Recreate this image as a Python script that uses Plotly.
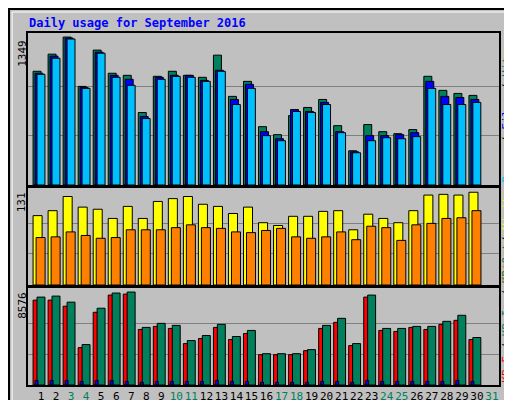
import plotly.graph_objects as go

days = list(range(1, 31))
hits = [1037,1193,1349,899,1230,1019,1000,661,991,1037,1000,982,1184,808,945,532,459,633,707,780,541,312,551,486,468,505,991,863,835,817]
files = [1019,1175,1340,890,1211,1000,964,624,982,1000,1000,954,1046,780,918,486,422,688,670,753,486,303,450,450,459,477,945,808,798,780]
pages = [1009,1156,1331,881,1202,982,909,606,964,991,982,945,1037,734,881,450,404,670,661,734,477,294,404,431,422,441,881,734,734,753]
visits = [98,105,125,110,107,94,111,94,118,122,125,114,111,101,110,88,84,97,97,104,105,78,100,94,88,105,127,128,127,131]
sites = [67,68,75,70,66,67,78,78,78,81,85,81,80,75,74,77,80,68,66,68,75,64,83,81,63,85,87,94,95,105]
kb_out = [8109,8202,7643,3728,7083,8482,8576,5313,5686,5499,4101,4567,5592,4474,5033,2889,2889,2889,3262,5499,6151,3821,8295,5219,5219,5406,5406,5872,6431,4381]
kb_in = [7829,7829,7270,3448,6710,8295,8388,5126,5406,5219,3821,4287,5312,4194,4753,2796,2796,2796,3169,5219,5778,3635,8109,5033,4940,5312,5126,5592,5965,4194]
kb_f = [420,420,420,330,420,420,330,250,330,330,330,330,420,330,330,250,250,250,250,330,330,250,420,330,330,330,330,330,420,330]
weekend = [3,4,10,11,17,18,24,25,31]

GREEN, BLUE, CYAN = "#00805c", "#0000ff", "#00bfff"
YEL, ORG, RED = "#ffff00", "#ff8000", "#ff0000"
line = dict(color="black", width=1)

fig = go.Figure()
def bar(y, color, off, w, ax):
    fig.add_trace(go.Bar(x=days, y=y, marker=dict(color=color, line=line),
                         offset=off, width=w, xaxis="x" + ax, yaxis="y" + ax))
bar(hits, GREEN, -0.53, 0.53, "")
bar(files, BLUE, -0.40, 0.53, "")
bar(pages, CYAN, -0.27, 0.53, "")
bar(visits, YEL, -0.53, 0.6, "2")
bar(sites, ORG, -0.33, 0.6, "2")
bar(kb_in, RED, -0.53, 0.4, "3")
bar(kb_out, GREEN, -0.27, 0.53, "3")
bar(kb_f, BLUE, -0.40, 0.2, "3")

ticktext = [f"<span style='color:{GREEN if d in weekend else 'black'}'>{d}</span>" for d in range(1, 32)]
xcommon = dict(range=[0.13, 31.47], domain=[0.039, 0.959], showgrid=False, zeroline=False, automargin=False,
               showline=True, linecolor="black", linewidth=2, mirror=True, ticks="")
ycommon = dict(showline=True, linecolor="black", linewidth=2, mirror=True, zeroline=False, automargin=False,
               gridcolor="#808080", gridwidth=1, ticks="", showticklabels=False)

fig.update_layout(
    width=512, height=400, margin=dict(l=0, r=0, t=0, b=0, autoexpand=False), autosize=False,
    paper_bgcolor="#c0c0c0", plot_bgcolor="#c0c0c0", showlegend=False, barmode="overlay",
    font=dict(family="DejaVu Sans Mono", size=11, color="black"),
    xaxis=dict(**xcommon, anchor="y", showticklabels=False),
    xaxis2=dict(**xcommon, anchor="y2", showticklabels=False),
    xaxis3=dict(**xcommon, anchor="y3", tickmode="array", tickvals=list(range(1, 32)), ticktext=ticktext,
                tickangle=0, tickfont=dict(size=11)),
    yaxis=dict(**ycommon, domain=[0.5575, 0.9375], range=[0, 1386], tickvals=[450, 899], anchor="x"),
    yaxis2=dict(**ycommon, domain=[0.3075, 0.55], range=[0, 137], tickvals=[44, 87], anchor="x2"),
    yaxis3=dict(**ycommon, domain=[0.0575, 0.3], range=[0, 8949], tickvals=[2859, 5717], anchor="x3"),
    shapes=[
        dict(type="rect", xref="paper", yref="paper", x0=0.002, x1=0.998, y0=0.0025, y1=0.9975,
             line=dict(color="black", width=2)),
        dict(type="rect", xref="paper", yref="paper", x0=0.008, x1=0.992, y0=0.01, y1=0.99,
             line=dict(color="white", width=1)),
    ],
    annotations=[
        dict(text="<b>Daily usage for September 2016</b>", x=0.037, y=0.962, xref="paper", yref="paper",
             xanchor="left", yanchor="middle", showarrow=False, font=dict(color="#0000ff", size=12)),
        dict(text="1349", x=0.028, y=0.925, xref="paper", yref="paper", textangle=-90,
             xanchor="center", yanchor="top", showarrow=False),
        dict(text="131", x=0.028, y=0.545, xref="paper", yref="paper", textangle=-90,
             xanchor="center", yanchor="top", showarrow=False),
        dict(text="8576", x=0.028, y=0.295, xref="paper", yref="paper", textangle=-90,
             xanchor="center", yanchor="top", showarrow=False),
        dict(text=f"<span style='color:{CYAN}'>Pages</span> / <span style='color:{BLUE}'>Files</span> / <span style='color:{GREEN}'>Hits</span>",
             x=0.973, y=0.5575, xref="paper", yref="paper", textangle=-90, xanchor="center", yanchor="bottom", showarrow=False),
        dict(text=f"<span style='color:{ORG}'>Sites</span> / <span style='color:{YEL}'>Visits</span>",
             x=0.973, y=0.3075, xref="paper", yref="paper", textangle=-90, xanchor="center", yanchor="bottom", showarrow=False),
        dict(text=f"<span style='color:{RED}'>KB F</span> / <span style='color:{GREEN}'>KB In</span> / <span style='color:{GREEN}'>KB Out</span>",
             x=0.973, y=0.0575, xref="paper", yref="paper", textangle=-90, xanchor="center", yanchor="bottom", showarrow=False),
    ],
)
fig.write_html("out.html")
